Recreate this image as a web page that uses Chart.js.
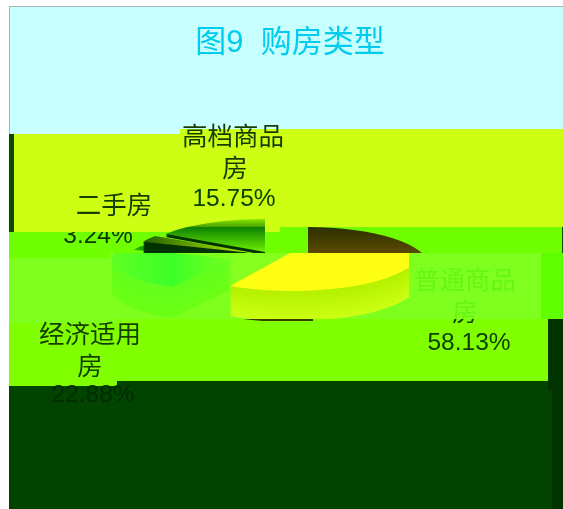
<!DOCTYPE html>
<html>
<head>
<meta charset="utf-8">
<style>
  html, body { margin: 0; padding: 0; background: #fff; }
  canvas { display: block; }
</style>
<script src="https://cdn.jsdelivr.net/npm/chart.js@4/dist/chart.umd.min.js"></script>
</head>
<body>
<canvas id="c" width="563" height="509"></canvas>
<script>
// values
const categories = ['普通商品房', '经济适用房', '二手房', '高档商品房'];
const shares = [58.13, 22.88, 3.24, 15.75];
const chartTitle = '图9  购房类型';

const CJK_FONT = '"Liberation Sans", "Noto Sans CJK SC", sans-serif';

// flat colour bands behind the pie [x, y, w, h, colour]
const bands = [
  [9, 6, 554, 128, '#c8ffff'],
  [180, 129, 383, 6, '#ccff14'],
  [14, 134, 549, 98, '#ccff14'],
  [9, 134, 5, 98, '#0c4a00'],
  [280, 227, 283, 6, '#70ff00'],
  [9, 232, 554, 21, '#70ff00'],
  [562, 227, 1, 26, '#0c4a00'],
  [9, 253, 554, 5, '#70ff00'],
  [110, 253, 431, 66, '#7fff1e'],
  [9, 258, 532, 65, '#7fff1e'],
  [233, 253, 55, 33, '#86ff1e'],
  [541, 253, 22, 66, '#60ff00'],
  [9, 323, 539, 63, '#80ff00'],
  [117, 319, 431, 62, '#80ff00'],
  [9, 386, 554, 123, '#004400'],
  [117, 381, 446, 10, '#004400'],
  [548, 319, 15, 72, '#003300'],
  [552, 391, 11, 118, '#003300']
];

const lerpColor = (a, b, t) => {
  const pa = a.match(/\w\w/g).map(h => parseInt(h, 16));
  const pb = b.match(/\w\w/g).map(h => parseInt(h, 16));
  return 'rgb(' + pa.map((v, i) => Math.round(v + (pb[i] - v) * t)).join(',') + ')';
};

// how each slice is squashed and extruded, drawn back to front
const pieces = [
  { slice: 2, cx: 253, cy: 262, rx: 128, ry: 33, depth: 0, clip: [100, 246, 165, 7],
    face: [130, 0, 170, 0, ['#20c000', '#106000']] },
  { slice: 2, cx: 262, cy: 254, rx: 128, ry: 33, depth: 11, clip: [100, 227, 165, 26], wall: ['#003300', '#003300'],
    face: [140, 0, 250, 0, ['#1c5c00', '#b8f000']] },
  { slice: 3, cx: 265, cy: 252, rx: 119, ry: 33, depth: 3, clip: [100, 200, 180, 27], wall: ['#60c000', '#60c000'],
    face: [0, 219, 0, 227, ['#88e800', '#4aa000']] },
  { slice: 3, cx: 265, cy: 252, rx: 119, ry: 33, depth: 3, clip: [100, 227, 165, 26], wall: ['#003300', '#003300'],
    face: [0, 227, 0, 252, ['#0a8000', '#70f000']] },
  { slice: 0, cx: 308, cy: 265, rx: 120, ry: 38, depth: 0, clip: [300, 220, 140, 33],
    face: [0, 227, 0, 253, ['#2c3000', '#5a4a00']] },
  { slice: 1, cx: 230, cy: 259, rx: 118, ry: 32, depth: 31, clip: [100, 253, 135, 66], wall: ['#64ff20', '#6cff14'],
    face: [115, 0, 230, 0, ['#5cff24', '#3cff28', '#74ff1c']] },
  { slice: 0, cx: 292, cy: 252, rx: 127, ry: 39, depth: 31, clip: [230, 319, 83, 2], wall: ['#3a4000', '#3a4000'],
    face: [0, 0, 0, 1, ['#3a4000', '#3a4000']] },
  { slice: 0, cx: 292, cy: 252, rx: 127, ry: 39, depth: 30, clip: [230, 253, 179, 66], wall: ['#b4f000', '#ccff14'],
    face: [0, 253, 0, 290, ['#ffff14', '#ffff14']] }
];

// label lines: text, centre x, baseline y, colour, optional clip [x, y, w, h]
const labelName = i => categories[i].slice(0, 4);
const labelRest = i => categories[i].slice(4);
const pct = i => shares[i].toFixed(2) + '%';
const labelLines = [
  [labelName(3), 233, 145, '#163c00'],
  [labelRest(3), 235, 177, '#163c00'],
  [pct(3), 234, 206, '#0d4000'],
  [categories[2], 114, 214, '#163c00'],
  [pct(2), 98, 243, '#0d3000', [0, 232, 563, 30]],
  [labelName(1), 90, 343, '#163c00'],
  [labelRest(1), 90, 375, '#163c00'],
  [pct(1), 93, 402, '#002c00'],
  [labelName(0), 465, 289, '#66f514'],
  [labelRest(0), 465, 321, '#66f514', [400, 260, 140, 59]],
  [labelRest(0), 465, 321, '#0d4000', [400, 319, 140, 6]],
  [pct(0), 469, 350, '#0d3c00']
];

const drawArcAs = (ctx, arc, fill) => {
  const base = arc.options;
  arc.options = Object.create(base, { backgroundColor: { value: fill } });
  arc.draw(ctx);
  arc.options = base;
};

const pagePlugin = {
  id: 'page',
  beforeDraw(chart) {
    const ctx = chart.ctx;
    ctx.save();
    ctx.fillStyle = '#fff';
    ctx.fillRect(0, 0, chart.width, chart.height);
    bands.forEach(b => {
      ctx.fillStyle = b[4];
      ctx.fillRect(b[0], b[1], b[2], b[3]);
    });
    ctx.fillStyle = '#a8b4b8';
    ctx.fillRect(9, 6, 554, 1);
    ctx.fillRect(9, 6, 1, 128);
    ctx.restore();
  },
  // the pie is squashed into a tilted disc, so its arcs get drawn here
  beforeDatasetsDraw(chart) {
    const ctx = chart.ctx;
    const arcs = chart.getDatasetMeta(0).data;
    pieces.forEach(p => {
      const arc = arcs[p.slice];
      const sx = p.rx / arc.outerRadius;
      const sy = p.ry / arc.outerRadius;
      ctx.save();
      ctx.beginPath();
      ctx.rect(p.clip[0], p.clip[1], p.clip[2], p.clip[3]);
      ctx.clip();
      for (let d = p.depth; d >= 0; d--) {
        ctx.save();
        ctx.translate(p.cx, p.cy + d);
        ctx.scale(sx, sy);
        ctx.translate(-arc.x, -arc.y);
        let fill;
        if (d > 0) {
          fill = lerpColor(p.wall[0], p.wall[1], d / p.depth);
        } else {
          const f = p.face;
          const gx = x => arc.x + (x - p.cx) / sx;
          const gy = y => arc.y + (y - p.cy) / sy;
          fill = ctx.createLinearGradient(gx(f[0]), gy(f[1]), gx(f[2]), gy(f[3]));
          f[4].forEach((c, i) => fill.addColorStop(i / (f[4].length - 1), c));
        }
        drawArcAs(ctx, arc, fill);
        ctx.restore();
      }
      ctx.restore();
    });
    return false;
  },
  afterDraw(chart) {
    const ctx = chart.ctx;
    ctx.font = '25.5px ' + '"Noto Sans CJK SC", sans-serif';
    ctx.textAlign = 'center';
    ctx.textBaseline = 'alphabetic';
    labelLines.forEach(l => {
      ctx.save();
      if (l[4]) {
        ctx.beginPath();
        ctx.rect(l[4][0], l[4][1], l[4][2], l[4][3]);
        ctx.clip();
      }
      // percentages are Latin, the names CJK
      ctx.font = l[0].includes('%') ? '24.5px ' + CJK_FONT : '25.5px "Noto Sans CJK SC", sans-serif';
      ctx.fillStyle = l[3];
      ctx.fillText(l[0], l[1], l[2]);
      ctx.restore();
    });
  }
};

new Chart(document.getElementById('c'), {
  type: 'pie',
  data: {
    labels: categories,
    datasets: [{ data: shares, borderWidth: 0, backgroundColor: '#7fff1e' }]
  },
  options: {
    responsive: false,
    animation: false,
    layout: { padding: { left: 17, top: 25 } },
    plugins: {
      legend: { display: false },
      tooltip: { enabled: false },
      title: {
        display: true,
        text: chartTitle,
        color: '#00ccf0',
        font: { family: CJK_FONT, size: 31, weight: 'normal' },
        padding: { top: 0, bottom: 10 }
      }
    }
  },
  plugins: [pagePlugin]
});
</script>
</body>
</html>
